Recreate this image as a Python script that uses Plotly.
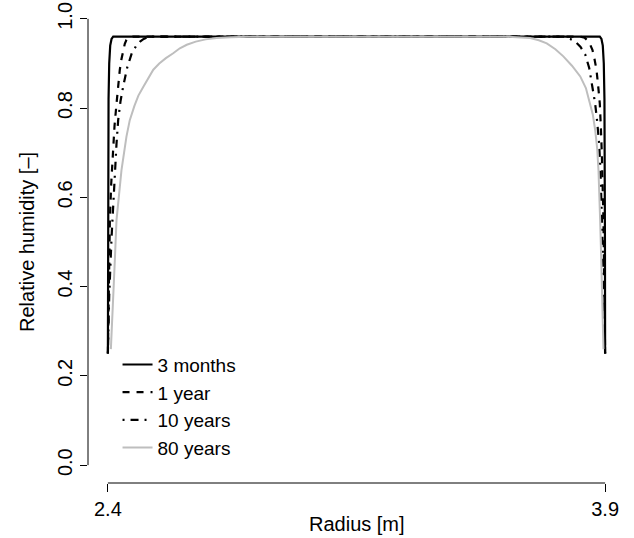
import plotly.graph_objects as go

# ---- data ----
series_names = ["3 months", "1 year", "10 years", "80 years"]

r_3m = [2.400, 2.4005, 2.401, 2.402, 2.404, 2.407, 2.411, 2.416,
        3.884, 3.889, 3.893, 3.896, 3.898, 3.899, 3.8995, 3.900]
rh_3m = [0.25, 0.50, 0.70, 0.82, 0.90, 0.94, 0.955, 0.96,
         0.96, 0.955, 0.94, 0.90, 0.82, 0.70, 0.50, 0.25]

r_1y = [2.400, 2.402, 2.406, 2.410, 2.415, 2.420, 2.426, 2.431, 2.436, 2.441,
        2.446, 2.451, 2.456, 2.463, 2.475,
        3.825, 3.838, 3.845, 3.854, 3.862, 3.868, 3.874, 3.879, 3.884, 3.887,
        3.890, 3.895, 3.898, 3.900]
rh_1y = [0.25, 0.40, 0.55, 0.63, 0.70, 0.76, 0.81, 0.85, 0.886, 0.91,
         0.93, 0.944, 0.953, 0.958, 0.96,
         0.96, 0.958, 0.953, 0.944, 0.93, 0.91, 0.886, 0.85, 0.81, 0.76,
         0.70, 0.55, 0.40, 0.25]

r_10y = [2.400, 2.404, 2.411, 2.416, 2.421, 2.426, 2.431, 2.438, 2.446, 2.458,
         2.472, 2.485, 2.497, 2.508, 2.525,
         3.775, 3.795, 3.810, 3.826, 3.840, 3.852, 3.862, 3.870, 3.876, 3.882,
         3.886, 3.893, 3.897, 3.900]
rh_10y = [0.25, 0.38, 0.51, 0.59, 0.66, 0.72, 0.773, 0.815, 0.848, 0.89,
          0.923, 0.939, 0.949, 0.955, 0.96,
          0.96, 0.955, 0.949, 0.937, 0.92, 0.89, 0.85, 0.81, 0.77, 0.72,
          0.66, 0.51, 0.38, 0.25]

r_80y = [2.409, 2.411, 2.416, 2.421, 2.426, 2.433, 2.441, 2.456, 2.466, 2.480,
         2.492, 2.507, 2.522, 2.537, 2.555, 2.575, 2.597, 2.617, 2.638, 2.665,
         2.695, 2.728, 2.770, 2.820,
         3.600, 3.640, 3.674, 3.700, 3.724, 3.750, 3.774, 3.800, 3.825, 3.842,
         3.855, 3.863, 3.870, 3.876, 3.880, 3.883, 3.885, 3.888, 3.890,
         3.893, 3.895]
rh_80y = [0.26, 0.30, 0.363, 0.46, 0.549, 0.61, 0.661, 0.736, 0.773, 0.805,
          0.828, 0.848, 0.868, 0.886, 0.900, 0.912, 0.923, 0.934, 0.942, 0.949,
          0.954, 0.957, 0.959, 0.96,
          0.96, 0.959, 0.957, 0.952, 0.945, 0.932, 0.916, 0.895, 0.871, 0.845,
          0.811, 0.785, 0.751, 0.71, 0.661, 0.61, 0.549, 0.47, 0.40,
          0.29, 0.26]

y_ticks = [0.0, 0.2, 0.4, 0.6, 0.8, 1.0]
y_tick_labels = ["0.0", "0.2", "0.4", "0.6", "0.8", "1.0"]
x_ticks = [2.4, 3.9]
x_tick_labels = ["2.4", "3.9"]

# ---- styles ----
FONT = "Liberation Sans, Arial, Helvetica, sans-serif"
styles = [
    dict(color="black", width=2.2, dash="solid"),
    dict(color="black", width=2.2, dash="7px,7px"),
    dict(color="black", width=2.2, dash="2px,6px,8px,6px"),
    dict(color="#bebebe", width=2.0, dash="solid"),
]
xs = [r_3m, r_1y, r_10y, r_80y]
ys = [rh_3m, rh_1y, rh_10y, rh_80y]

fig = go.Figure()
for name, x, y, st in zip(series_names, xs, ys, styles):
    fig.add_trace(go.Scatter(x=x, y=y, mode="lines", name=name,
                             line=dict(color=st["color"], width=st["width"],
                                       dash=st["dash"], shape="linear")))

fig.update_layout(
    width=634, height=538,
    margin=dict(l=88, r=9, t=1, b=55),
    paper_bgcolor="white", plot_bgcolor="white",
    font=dict(family=FONT, size=20, color="black"),
    showlegend=True,
    legend=dict(x=0.055, y=0.285, xanchor="left", yanchor="top",
                bgcolor="rgba(0,0,0,0)", borderwidth=0,
                font=dict(family=FONT, size=19, color="black"),
                tracegroupgap=0, itemwidth=30),
    xaxis=dict(range=[2.34, 3.96], showgrid=False, zeroline=False,
               showline=False, tickmode="array", tickvals=x_ticks,
               ticktext=x_tick_labels, ticks="outside", ticklen=8,
               tickwidth=1, tickcolor="black",
               tickfont=dict(family=FONT, size=20, color="black")),
    yaxis=dict(range=[-0.04, 1.04], showgrid=False, zeroline=False,
               showline=False, tickmode="array", tickvals=y_ticks,
               ticktext=y_tick_labels, ticks="outside", ticklen=7,
               tickwidth=1, tickcolor="black", tickangle=-90,
               tickfont=dict(family=FONT, size=20, color="black")),
    shapes=[
        dict(type="line", xref="paper", yref="y", x0=0, x1=0, y0=0, y1=1,
             line=dict(color="black", width=1)),
        dict(type="line", xref="x", yref="paper", x0=2.4, x1=3.9, y0=0, y1=0,
             line=dict(color="black", width=1)),
    ],
    annotations=[
        dict(text="Radius [m]", xref="x", yref="paper", x=3.15, y=0,
             yshift=-41, xanchor="center", yanchor="middle", showarrow=False,
             font=dict(family=FONT, size=20, color="black")),
        dict(text="Relative humidity [\u2013]", xref="paper", yref="y", x=0,
             y=0.5, xshift=-61, xanchor="center", yanchor="middle",
             textangle=-90, showarrow=False,
             font=dict(family=FONT, size=20, color="black")),
    ],
)

fig.write_html("out.html",
               config={"displayModeBar": False},
               post_script="document.body.style.margin='0px';"
                           "document.body.style.overflow='hidden';")
